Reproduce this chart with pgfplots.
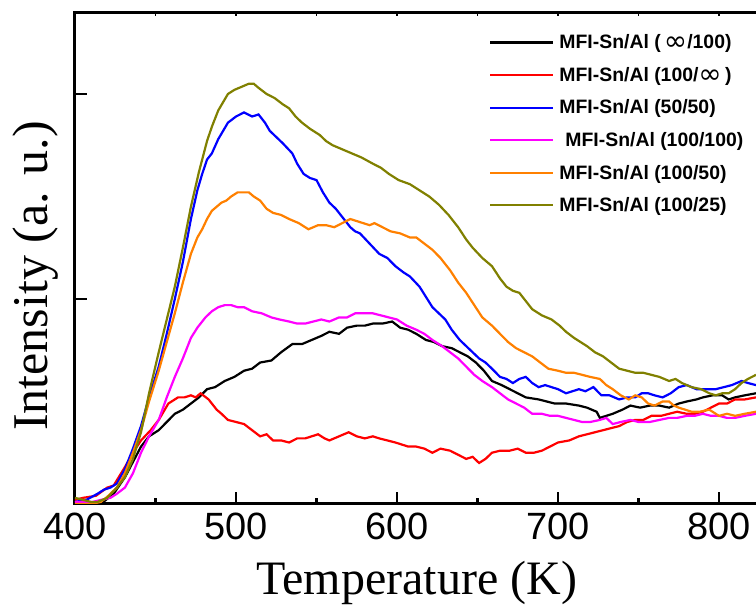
\documentclass[border=0pt]{standalone}
\usepackage{fontspec}
\setmainfont{Liberation Serif}
\setsansfont{Liberation Sans}
\newfontfamily\inffont{DejaVu Sans}
\newcommand{\infsym}{\raisebox{-2pt}{\inffont\mdseries\fontsize{28pt}{22pt}\selectfont ∞}}
\usepackage{pgfplots}
\pgfplotsset{compat=1.18}
\usepackage{pgfplotstable}
\definecolor{cOrange}{RGB}{255,128,0}
\definecolor{cOlive}{RGB}{128,128,0}
\definecolor{cMagenta}{RGB}{255,0,255}
\definecolor{cRed}{RGB}{255,0,0}
\definecolor{cBlue}{RGB}{0,0,255}

\pgfplotstableread{
T y
400 0.01
410 0.005
416 0.0
424 0.05
431 0.13
441 0.28
446 0.33
452 0.36
457 0.40
462 0.44
467 0.46
472 0.49
477 0.52
482 0.56
487 0.57
493 0.60
499 0.62
505 0.65
510 0.66
515 0.69
522 0.70
528 0.74
535 0.78
541 0.78
547 0.80
553 0.82
558 0.84
564 0.83
569 0.86
575 0.87
580 0.87
585 0.88
591 0.88
597 0.89
602 0.86
607 0.85
612 0.83
618 0.80
623 0.79
628 0.77
634 0.76
639 0.74
644 0.72
649 0.69
654 0.65
659 0.60
665 0.58
670 0.56
675 0.54
680 0.52
688 0.51
698 0.49
705 0.49
713 0.48
718 0.47
724 0.45
726 0.42
730 0.43
734 0.44
740 0.46
745 0.48
751 0.47
757 0.48
763 0.48
769 0.47
775 0.49
780 0.50
786 0.51
790 0.52
796 0.53
802 0.53
806 0.51
810 0.52
816 0.53
823 0.54
}\dataBlack

\pgfplotstableread{
T y
400 0.02
405 0.03
413 0.04
420 0.08
424 0.09
431 0.18
436 0.25
441 0.31
447 0.36
452 0.41
458 0.49
464 0.52
468 0.52
472 0.53
475 0.52
478 0.54
483 0.51
488 0.46
491 0.44
495 0.41
500 0.40
505 0.39
510 0.36
515 0.33
519 0.34
523 0.31
528 0.31
533 0.30
538 0.32
543 0.32
547 0.33
551 0.34
555 0.32
558 0.31
564 0.33
570 0.35
575 0.33
580 0.32
585 0.33
589 0.32
594 0.31
599 0.30
603 0.29
607 0.28
612 0.28
617 0.27
622 0.25
627 0.27
633 0.26
638 0.24
643 0.22
647 0.23
651 0.20
655 0.22
659 0.25
664 0.26
670 0.26
675 0.27
680 0.25
685 0.25
690 0.26
695 0.28
700 0.30
707 0.31
713 0.33
718 0.34
723 0.35
728 0.36
733 0.37
738 0.38
743 0.40
748 0.41
753 0.41
758 0.43
764 0.43
769 0.44
774 0.45
780 0.44
785 0.44
790 0.45
795 0.47
800 0.49
805 0.49
810 0.51
816 0.51
823 0.52
}\dataRed

\pgfplotstableread{
T y
400 0.01
407 0.02
414 0.05
418 0.07
422 0.08
426 0.10
431 0.17
436 0.27
441 0.38
446 0.52
452 0.67
457 0.83
462 1.00
467 1.18
472 1.39
476 1.53
479 1.61
482 1.68
485 1.71
489 1.78
492 1.82
495 1.86
500 1.89
505 1.91
510 1.89
514 1.90
518 1.86
521 1.82
525 1.79
529 1.76
535 1.71
538 1.66
542 1.61
546 1.59
550 1.58
554 1.52
558 1.47
562 1.44
566 1.40
571 1.35
574 1.33
577 1.32
583 1.27
589 1.22
594 1.20
599 1.16
604 1.13
608 1.11
614 1.06
618 1.01
622 0.96
626 0.93
630 0.90
634 0.85
639 0.80
643 0.77
647 0.74
651 0.71
655 0.69
659 0.66
664 0.62
668 0.61
672 0.59
676 0.61
680 0.62
684 0.59
688 0.57
692 0.58
696 0.57
700 0.56
705 0.54
709 0.55
713 0.56
717 0.55
722 0.57
727 0.53
732 0.53
738 0.51
743 0.52
748 0.52
752 0.54
756 0.54
760 0.53
765 0.52
770 0.54
775 0.57
780 0.58
786 0.56
792 0.56
798 0.56
803 0.57
808 0.58
814 0.60
818 0.59
823 0.58
}\dataBlue

\pgfplotstableread{
T y
400 0.01
411 0.01
416 0.02
422 0.03
426 0.05
431 0.08
436 0.15
441 0.25
446 0.33
452 0.41
457 0.52
462 0.62
467 0.71
472 0.81
476 0.86
481 0.91
485 0.94
489 0.96
493 0.97
497 0.97
501 0.96
505 0.96
510 0.94
516 0.93
522 0.91
527 0.90
533 0.89
538 0.88
543 0.88
548 0.89
553 0.90
558 0.89
564 0.91
569 0.91
574 0.93
580 0.93
585 0.93
590 0.92
595 0.91
600 0.90
606 0.87
612 0.85
617 0.83
622 0.80
628 0.77
633 0.74
638 0.71
643 0.67
648 0.63
653 0.60
659 0.57
664 0.54
669 0.51
674 0.49
679 0.47
684 0.44
690 0.44
695 0.43
700 0.43
705 0.42
710 0.41
715 0.40
720 0.40
726 0.41
730 0.42
734 0.39
739 0.40
745 0.41
750 0.40
757 0.40
763 0.41
769 0.42
774 0.42
780 0.43
785 0.43
790 0.44
795 0.43
800 0.43
805 0.42
810 0.42
816 0.43
823 0.44
}\dataMagenta

\pgfplotstableread{
T y
400 0.00
410 0.00
416 0.01
420 0.035
426 0.08
431 0.15
436 0.25
441 0.36
446 0.50
452 0.65
457 0.79
462 0.93
467 1.08
472 1.22
476 1.30
479 1.34
482 1.39
485 1.43
488 1.45
491 1.47
494 1.48
497 1.50
501 1.52
505 1.52
508 1.52
511 1.50
515 1.48
519 1.44
523 1.42
528 1.41
533 1.39
539 1.37
545 1.34
548 1.35
551 1.36
556 1.36
561 1.35
566 1.37
571 1.39
575 1.38
579 1.37
583 1.36
586 1.37
591 1.35
596 1.33
602 1.32
608 1.30
612 1.30
617 1.27
622 1.24
627 1.20
633 1.14
638 1.08
643 1.03
648 0.97
653 0.91
659 0.87
664 0.83
669 0.79
674 0.76
679 0.74
684 0.72
689 0.69
694 0.66
700 0.65
705 0.64
710 0.64
715 0.63
720 0.62
726 0.61
730 0.58
734 0.56
739 0.53
744 0.51
748 0.53
752 0.52
756 0.49
760 0.48
765 0.50
769 0.50
772 0.48
775 0.47
779 0.46
783 0.45
788 0.45
794 0.46
800 0.43
805 0.44
810 0.43
816 0.44
823 0.45
}\dataOrange

\pgfplotstableread{
T y
400 0.03
405 0.02
410 0.01
414 0.01
420 0.03
426 0.08
431 0.13
436 0.22
441 0.35
446 0.54
452 0.74
457 0.90
462 1.06
467 1.25
472 1.45
477 1.62
482 1.77
485 1.84
489 1.92
492 1.96
495 2.00
499 2.02
502 2.03
505 2.04
508 2.05
511 2.05
514 2.03
519 2.00
524 1.98
529 1.95
533 1.93
537 1.89
541 1.86
546 1.83
552 1.80
556 1.77
560 1.75
566 1.73
572 1.71
578 1.69
585 1.66
590 1.64
595 1.61
601 1.58
608 1.56
614 1.53
620 1.50
626 1.46
632 1.41
638 1.35
643 1.29
647 1.25
653 1.20
659 1.16
664 1.10
668 1.06
672 1.04
676 1.03
680 0.99
684 0.95
690 0.92
696 0.90
701 0.87
705 0.84
710 0.81
714 0.79
718 0.77
723 0.74
728 0.72
733 0.69
738 0.66
743 0.65
748 0.64
753 0.64
758 0.63
763 0.62
769 0.60
773 0.61
777 0.59
783 0.57
789 0.56
794 0.54
798 0.53
802 0.54
806 0.54
810 0.56
814 0.59
818 0.61
823 0.63
}\dataOlive

\begin{document}
\begin{tikzpicture}
\path[use as bounding box] (0,0) rectangle (756pt,607pt);
% top axis with small ticks
\begin{axis}[
  at={(75pt,103pt)}, anchor=south west,
  width=681pt, height=491pt, scale only axis,
  xmin=400, xmax=823, ymin=0, ymax=2.395,
  axis x line*=top, axis y line=none,
  axis line style={line width=3pt},
  xtick={400,450,...,800}, xticklabels={},
  tick align=inside, major tick length=3pt,
  every tick/.style={black, line width=1.5pt},
]
\end{axis}
\begin{axis}[
  at={(75pt,103pt)}, anchor=south west,
  width=681pt, height=491pt, scale only axis,
  xmin=400, xmax=823, ymin=0, ymax=2.395,
  axis x line*=bottom, axis y line*=left,
  axis line style={line width=3pt, line cap=rect},
  xtick={400,500,600,700,800}, minor x tick num=1,
  ytick={0,1,2}, yticklabels={},
  tick align=inside,
  major tick length=12pt, minor tick length=6pt,
  every tick/.style={black, line width=2.5pt},
  /pgf/number format/assume math mode=true,
  xticklabel style={font=\sffamily\fontsize{38pt}{40pt}\selectfont, anchor=north, inner sep=0pt, yshift=-9pt},
  xlabel={Temperature (K)},
  ylabel={Intensity (a. u.)},
  xlabel style={font=\rmfamily\fontsize{48pt}{50pt}\selectfont, at={(axis description cs:0.502,-0.1853)}, anchor=base, inner sep=0pt},
  ylabel style={font=\rmfamily\fontsize{50pt}{52pt}\selectfont, at={(axis description cs:-0.0411,0.464)}, anchor=base, inner sep=0pt},
  legend cell align=left,
  legend image code/.code={\draw[#1, line width=2.2pt] (0pt,0pt) -- (63pt,0pt);},
  legend style={draw=none, fill=none, at={(axis description cs:0.608,0.956)}, anchor=north west,
    font=\sffamily\bfseries\fontsize{19.4pt}{22pt}\selectfont,
    row sep=17pt, column sep=5pt, inner sep=0pt,
    nodes={inner sep=0pt}},
  every axis plot/.append style={line width=2.2pt},
]
\addplot[black] table[x=T,y=y] {\dataBlack};
\addlegendentry{MFI-Sn/Al (\,\infsym/100)}
\addplot[cRed] table[x=T,y=y] {\dataRed};
\addlegendentry{MFI-Sn/Al (100/\infsym\,)}
\addplot[cBlue] table[x=T,y=y] {\dataBlue};
\addlegendentry{MFI-Sn/Al (50/50)}
\addplot[cMagenta] table[x=T,y=y] {\dataMagenta};
\addlegendentry{\hspace{6pt}MFI-Sn/Al (100/100)}
\addplot[cOrange] table[x=T,y=y] {\dataOrange};
\addlegendentry{MFI-Sn/Al (100/50)}
\addplot[cOlive] table[x=T,y=y] {\dataOlive};
\addlegendentry{MFI-Sn/Al (100/25)}
\end{axis}
\end{tikzpicture}
\end{document}
